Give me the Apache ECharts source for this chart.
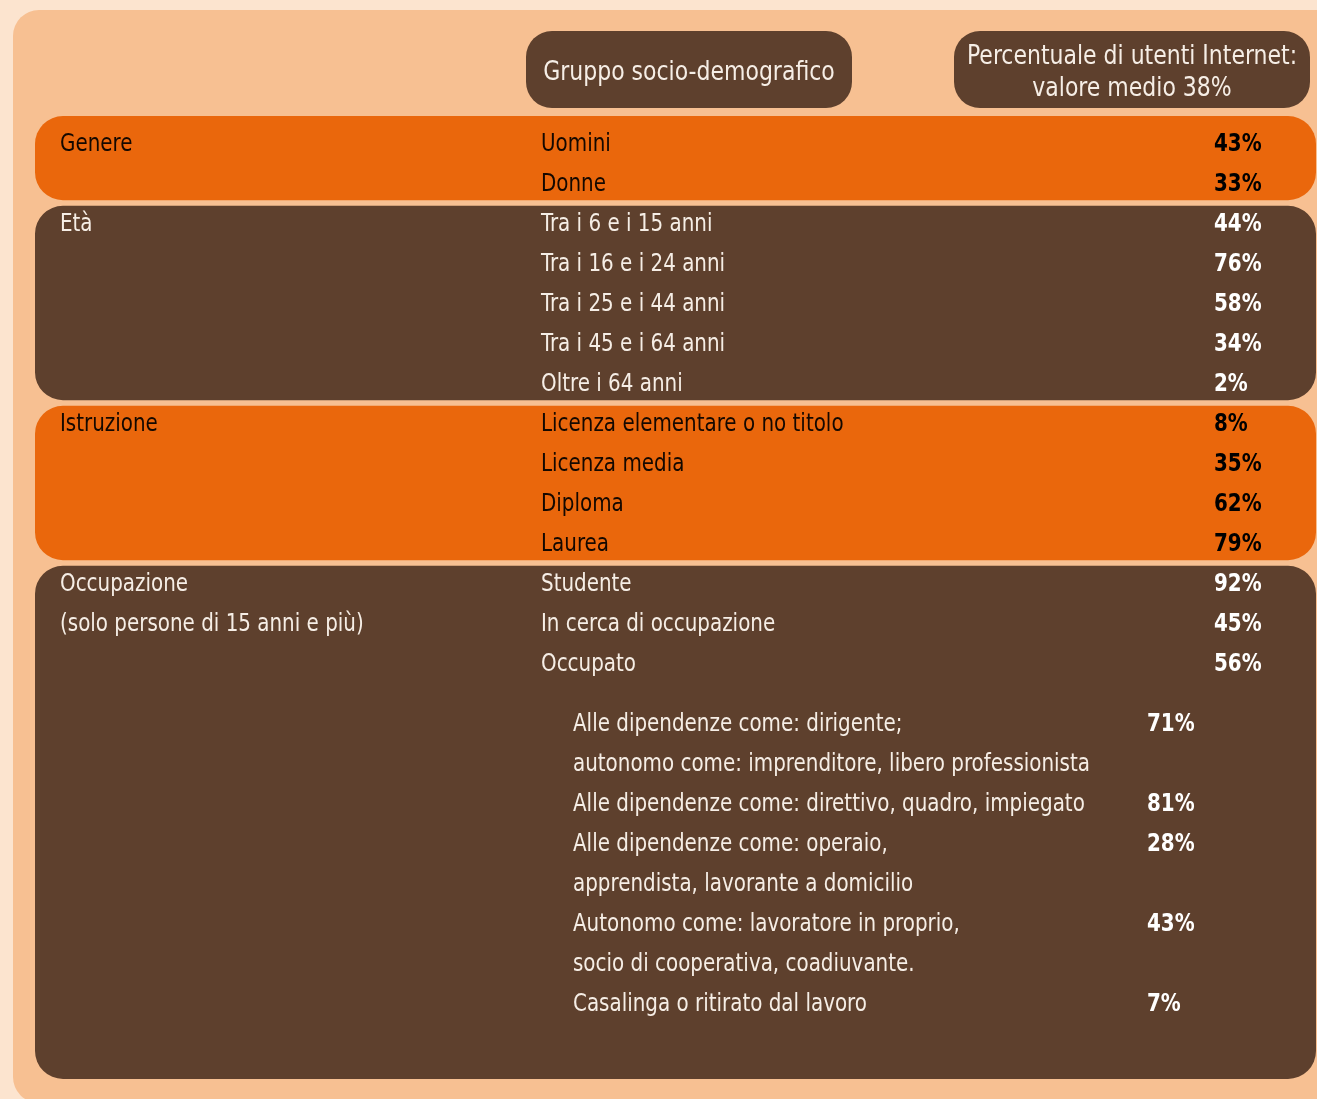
<!DOCTYPE html>
<html>
<head>
<meta charset="utf-8">
<script src="https://cdn.jsdelivr.net/npm/echarts@6/dist/echarts.min.js"></script>
<style>
html, body { margin: 0; padding: 0; background: #FCE4CF; }
#container { width: 1317px; height: 1099px; }
</style>
</head>
<body>
<div id="container"></div>
<script>
// dati
var groupNames = [
    ['Genere'],
    ['Età'],
    ['Istruzione'],
    ['Occupazione', '(solo persone di 15 anni e più)']
];
var groupSizes = [2, 5, 4, 3];
var categories = [
    'Uomini', 'Donne',
    'Tra i 6 e i 15 anni', 'Tra i 16 e i 24 anni', 'Tra i 25 e i 44 anni', 'Tra i 45 e i 64 anni', 'Oltre i 64 anni',
    'Licenza elementare o no titolo', 'Licenza media', 'Diploma', 'Laurea',
    'Studente', 'In cerca di occupazione', 'Occupato'
];
var values = [43, 33, 44, 76, 58, 34, 2, 8, 35, 62, 79, 92, 45, 56];
var subCategories = [
    ['Alle dipendenze come: dirigente;', 'autonomo come: imprenditore, libero professionista'],
    ['Alle dipendenze come: direttivo, quadro, impiegato'],
    ['Alle dipendenze come: operaio,', 'apprendista, lavorante a domicilio'],
    ['Autonomo come: lavoratore in proprio,', 'socio di cooperativa, coadiuvante.'],
    ['Casalinga o ritirato dal lavoro']
];
var subValues = [71, 81, 28, 43, 7];
var headers = [['Gruppo socio-demografico'], ['Percentuale di utenti Internet:', 'valore medio 38%']];

// layout
var FONT = '"Liberation Sans Narrow", "DejaVu Sans Condensed", "Open Sans", sans-serif';
var ORANGE = '#EA670C', BROWN = '#5E402D', PANEL = '#F7C092';
var colGroup = 60, colCat = 541, colVal = 1214, colSub = 573, colSubVal = 1147;
var bandLeft = 35, bandRight = 1316;
var headerBoxes = [[526, 852], [954, 1310]];
var textScale = 0.885, headerScale = 0.94;
var subStart = groupSizes.reduce(function (a, b) { return a + b; }, 0) - 1 + 1.5;

var dom = document.getElementById('container');
var myChart = echarts.init(dom);

// bande
var bands = [];
var start = 0;
groupSizes.forEach(function (n, i) {
    var top = start - 0.43, bottom = start + n - 1 + 0.43;
    if (i === 0) top = start - 0.675;
    if (i === groupSizes.length - 1) bottom = subStart + 7 + 1.9;
    bands.push([top, bottom, i % 2 === 0 ? ORANGE : BROWN]);
    start += n;
});

// testi
var texts = [];
start = 0;
groupSizes.forEach(function (n, i) {
    var dark = i % 2 === 1;
    groupNames[i].forEach(function (t, k) {
        texts.push([colGroup, start + k, t, dark ? '#F6EEE6' : '#140800', 'normal']);
    });
    for (var j = 0; j < n; j++) {
        texts.push([colCat, start + j, categories[start + j], dark ? '#F6EEE6' : '#140800', 'normal']);
        texts.push([colVal, start + j, values[start + j] + '%', dark ? '#FFFFFF' : '#000000', 'bold']);
    }
    start += n;
});
var row = subStart;
subCategories.forEach(function (lines, i) {
    texts.push([colSubVal, row, subValues[i] + '%', '#FFFFFF', 'bold']);
    lines.forEach(function (t) {
        texts.push([colSub, row, t, '#F6EEE6', 'normal']);
        row += 1;
    });
});

option = {
    backgroundColor: '#FCE4CF',
    animation: false,
    grid: {left: 0, right: 0, top: 3, bottom: 0},
    xAxis: {type: 'value', min: 0, max: 1317, show: false},
    yAxis: {type: 'value', inverse: true, min: -3.5, max: 23.9, show: false},
    graphic: [{
        type: 'rect',
        z: -10,
        shape: {x: 13, y: 10, width: 1360, height: 1093, r: 26},
        style: {fill: PANEL}
    }],
    series: [{
        type: 'custom',
        clip: false,
        data: bands,
        renderItem: function (params, api) {
            var p1 = api.coord([bandLeft, api.value(0)]);
            var p2 = api.coord([bandRight, api.value(1)]);
            return {
                type: 'rect',
                shape: {x: p1[0], y: p1[1], width: p2[0] - p1[0], height: p2[1] - p1[1], r: 28},
                style: {fill: bands[params.dataIndex][2]}
            };
        }
    }, {
        type: 'custom',
        clip: false,
        data: headerBoxes.map(function (b, i) { return [b[0], b[1], i]; }),
        renderItem: function (params, api) {
            var p1 = api.coord([api.value(0), -2.8]);
            var p2 = api.coord([api.value(1), -0.875]);
            var lines = headers[params.dataIndex];
            return {
                type: 'group',
                children: [{
                    type: 'rect',
                    shape: {x: p1[0], y: p1[1], width: p2[0] - p1[0], height: p2[1] - p1[1], r: 26},
                    style: {fill: BROWN}
                }, {
                    type: 'text',
                    x: (p1[0] + p2[0]) / 2,
                    y: (p1[1] + p2[1]) / 2 + 4,
                    scaleX: headerScale,
                    style: {
                        x: 0, y: 0,
                        text: lines.join('\n'),
                        lineHeight: 32,
                        fill: '#F6EEE6',
                        font: '26px ' + FONT,
                        align: 'center', verticalAlign: 'middle'
                    }
                }]
            };
        }
    }, {
        type: 'custom',
        clip: false,
        data: texts,
        renderItem: function (params, api) {
            var d = texts[params.dataIndex];
            var p = api.coord([d[0], d[1]]);
            return {
                type: 'text',
                x: p[0],
                y: p[1] + 1,
                scaleX: textScale,
                style: {
                    x: 0, y: 0,
                    text: d[2],
                    fill: d[3],
                    font: d[4] + ' 25px ' + FONT,
                    align: 'left', verticalAlign: 'middle'
                }
            };
        }
    }]
};

myChart.setOption(option);
</script>
</body>
</html>
